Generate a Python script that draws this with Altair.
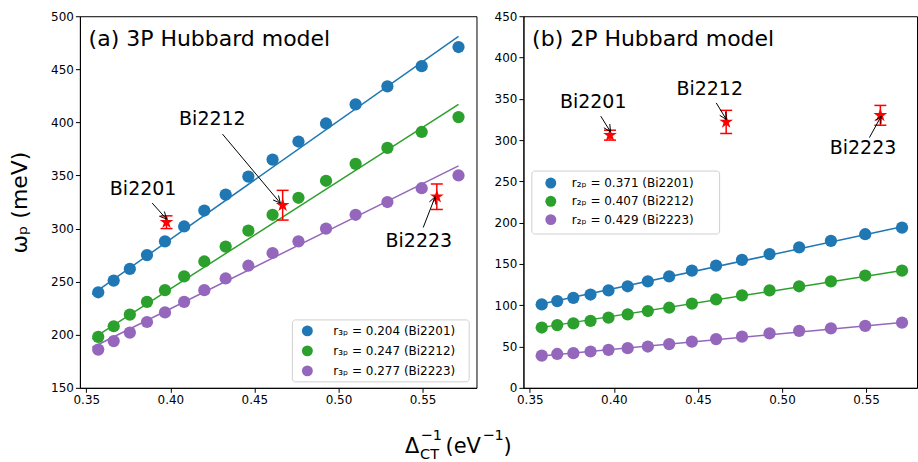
import math
import altair as alt
import pandas as pd

inv_delta = [0.3571, 0.3663, 0.3759, 0.3861, 0.3968, 0.4082, 0.4202, 0.4329,
             0.4464, 0.4608, 0.4762, 0.4926, 0.5102, 0.5291, 0.5495, 0.5714]

a_blue = [240, 251, 262, 275, 288, 302, 317, 332, 349, 365, 382, 399, 417, 434, 453, 471]
a_green = [198, 208, 219, 231, 242, 255, 269, 283, 298, 313, 329, 345, 361, 376, 391, 405]
a_purple = [186, 194, 202, 212, 221, 231, 242, 253, 265, 277, 288, 300, 313, 325, 338, 350]

b_blue = [101, 105, 109, 113, 118, 123, 129, 135, 142, 148, 155, 162, 170, 178, 186, 194]
b_green = [73, 76, 78, 81, 85, 89, 93, 97, 102, 107, 112, 118, 123, 129, 136, 142]
b_purple = [39, 41, 42, 44, 46, 48, 50, 53, 56, 59, 62, 66, 69, 72, 75, 79]

labels_a = ["r\u2083\u209a = 0.204 (Bi2201)", "r\u2083\u209a = 0.247 (Bi2212)", "r\u2083\u209a = 0.277 (Bi2223)"]
labels_b = ["r\u2082\u209a = 0.371 (Bi2201)", "r\u2082\u209a = 0.407 (Bi2212)", "r\u2082\u209a = 0.429 (Bi2223)"]
colors = ["#1f77b4", "#2ca02c", "#9467bd"]

fit_x = [0.3535, 0.5714]
fit_a = [[238, 481], [196, 417], [188, 359]]
fit_b = [[100, 195], [72, 142], [38, 79]]

exp_names = ["Bi2201", "Bi2212", "Bi2223"]
exp_x = [0.3977, 0.4668, 0.5585]
exp_w = [306, 322, 330]
exp_err = [6, 14, 12]

ann_a_text_x = [0.3838, 0.4250, 0.5478]
ann_a_text_y = [337, 403, 288]
ann_a_tail_x = [0.3892, 0.4310, 0.5504]
ann_a_tail_y = [324, 389, 301]
ann_a_head_x = [0.3977, 0.4654, 0.5575]
ann_a_head_y = [309, 324, 330]

ann_b_text_x = [0.3877, 0.4570, 0.5482]
ann_b_text_y = [346, 362, 290]
ann_b_tail_x = [0.3922, 0.4609, 0.5520]
ann_b_tail_y = [329, 345, 303]
ann_b_head_x = [0.3980, 0.4669, 0.5590]
ann_b_head_y = [310, 325, 329]

x_ticks = [0.35, 0.40, 0.45, 0.50, 0.55]
y_ticks_a = [150, 200, 250, 300, 350, 400, 450, 500]
y_ticks_b = [0, 50, 100, 150, 200, 250, 300, 350, 400, 450]

FONT = "DejaVu Sans"
H = 372
W_A = 397
W_B = 394
KX = 1683.0
X0 = 0.3462
XDOM_A = [X0, X0 + W_A / KX]
XDOM_B = [X0, X0 + W_B / KX]
YDOM_A = [150, 500]
YDOM_B = [0, 450]
HEAD_LEN = 7.0
HEAD_HALF = 3.5
STAR = ("M0,-1L0.2245,-0.309L0.951,-0.309L0.3633,0.118L0.588,0.809L0,0.382"
        "L-0.588,0.809L-0.3633,0.118L-0.951,-0.309L-0.2245,-0.309Z")
AXIS_STYLE = dict(labelFontSize=12, labelFont=FONT, labelColor="black",
                  tickColor="black", domainColor="black", tickSize=4.5,
                  tickWidth=1, domainWidth=1, grid=False, labelPadding=2)


def legend_layers(labels, box, sym_x, lab_x, row_y0, row_dy):
    """Legend box drawn inside the panel (pixel placement like matplotlib's legend)."""
    cs = alt.Scale(domain=labels, range=colors)
    frame = alt.Chart(pd.DataFrame({"k": [0]})).mark_rect(
        fill="white", stroke="#cccccc", strokeWidth=1, cornerRadius=3, opacity=0.9
    ).encode(x=alt.value(box[0]), x2=alt.value(box[1]),
             y=alt.value(box[2]), y2=alt.value(box[3]))
    ldf = pd.DataFrame({"s": labels,
                        "py": [row_y0 + i * row_dy for i in range(len(labels))]})
    syms = alt.Chart(ldf).mark_circle(size=120, opacity=1).encode(
        x=alt.value(sym_x), y=alt.Y("py:Q", scale=None),
        color=alt.Color("s:N", scale=cs, legend=None))
    texts = alt.Chart(ldf).mark_text(fontSize=12, font=FONT, color="black",
                                     align="left", baseline="middle").encode(
        x=alt.value(lab_x), y=alt.Y("py:Q", scale=None), text="s:N")
    return [frame, syms, texts]


def panel(series_vals, labels, fits, ydom, yticks, xdom, width, title,
          tx, ty, tlx, tly, hx, hy, leg, with_ytitle, extra=None):
    xs = alt.Scale(domain=xdom, nice=False, zero=False)
    ys = alt.Scale(domain=ydom, nice=False, zero=False)
    cs = alt.Scale(domain=labels, range=colors)

    rows = []
    for lab, vals in zip(labels, series_vals):
        for xv, yv in zip(inv_delta, vals):
            rows.append({"x": xv, "y": yv, "s": lab})
    pts = pd.DataFrame(rows)

    frows = []
    for lab, fv in zip(labels, fits):
        for xv, yv in zip(fit_x, fv):
            frows.append({"x": xv, "y": yv, "s": lab})
    fdf = pd.DataFrame(frows)

    edf = pd.DataFrame({"x": exp_x, "y": exp_w,
                        "lo": [w - e for w, e in zip(exp_w, exp_err)],
                        "hi": [w + e for w, e in zip(exp_w, exp_err)]})

    ky = H / (ydom[1] - ydom[0])
    seg = []
    for a, b, c, d in zip(tlx, tly, hx, hy):
        seg.append({"x1": a, "y1": b, "x2": c, "y2": d})
        ux, uy = (c - a) * KX, (d - b) * ky
        n = math.hypot(ux, uy)
        ux, uy = ux / n, uy / n
        for sgn in (1, -1):
            px = -ux * HEAD_LEN + sgn * (-uy) * HEAD_HALF
            py = -uy * HEAD_LEN + sgn * ux * HEAD_HALF
            seg.append({"x1": c, "y1": d, "x2": c + px / KX, "y2": d + py / ky})
    sdf = pd.DataFrame(seg)
    ldf = pd.DataFrame({"lx": tx, "ly": ty, "name": exp_names})

    if with_ytitle:
        yaxis = alt.Axis(title="\u03c9\u209a (meV)", titleFontSize=22, titleFont=FONT,
                         titleFontWeight="normal", titleColor="black",
                         titleX=-60, titleY=H / 2, titleAngle=270,
                         titleBaseline="middle", titleAlign="center",
                         values=yticks, **AXIS_STYLE)
    else:
        yaxis = alt.Axis(title=None, values=yticks, **AXIS_STYLE)
    xaxis = alt.Axis(title=None, values=x_ticks, format=".2f", **AXIS_STYLE)

    lines = alt.Chart(fdf).mark_line(strokeWidth=1.5).encode(
        x=alt.X("x:Q", scale=xs, axis=xaxis),
        y=alt.Y("y:Q", scale=ys, axis=yaxis),
        color=alt.Color("s:N", scale=cs, legend=None),
        detail="s:N",
    )
    points = alt.Chart(pts).mark_circle(size=150, opacity=1).encode(
        x=alt.X("x:Q", scale=xs),
        y=alt.Y("y:Q", scale=ys),
        color=alt.Color("s:N", scale=cs, legend=None),
    )
    err = alt.Chart(edf).mark_rule(color="red", strokeWidth=1.5).encode(
        x=alt.X("x:Q", scale=xs), y=alt.Y("lo:Q", scale=ys), y2="hi:Q")
    cap_lo = alt.Chart(edf).mark_tick(color="red", orient="horizontal", size=12,
                                      thickness=1.5, opacity=1).encode(
        x=alt.X("x:Q", scale=xs), y=alt.Y("lo:Q", scale=ys))
    cap_hi = alt.Chart(edf).mark_tick(color="red", orient="horizontal", size=12,
                                      thickness=1.5, opacity=1).encode(
        x=alt.X("x:Q", scale=xs), y=alt.Y("hi:Q", scale=ys))
    star = alt.Chart(edf).mark_point(shape=STAR, filled=True, color="red",
                                     size=210, opacity=1).encode(
        x=alt.X("x:Q", scale=xs), y=alt.Y("y:Q", scale=ys))
    arrows = alt.Chart(sdf).mark_rule(color="black", strokeWidth=1).encode(
        x=alt.X("x1:Q", scale=xs), y=alt.Y("y1:Q", scale=ys),
        x2="x2:Q", y2="y2:Q")
    labels_txt = alt.Chart(ldf).mark_text(fontSize=19, font=FONT, color="black",
                                          align="center", baseline="middle").encode(
        x=alt.X("lx:Q", scale=xs), y=alt.Y("ly:Q", scale=ys), text="name:N")
    ttl = alt.Chart(pd.DataFrame({"t": [title]})).mark_text(
        fontSize=22, font=FONT, color="black", align="left",
        baseline="alphabetic").encode(
        x=alt.value(8.7), y=alt.value(30), text="t:N")

    layers = [lines, points, err, cap_lo, cap_hi, star, arrows, labels_txt, ttl]
    layers += legend_layers(labels, *leg)
    if extra:
        layers += extra
    return alt.layer(*layers).resolve_scale(color="shared").properties(width=width, height=H)


def txt(s, x, y, size, align="left"):
    return alt.Chart(pd.DataFrame({"t": [s]})).mark_text(
        fontSize=size, font=FONT, color="black", align=align,
        baseline="alphabetic").encode(x=alt.value(x), y=alt.value(y), text="t:N")

xtitle = [
    txt("\u0394", 325.5, 437, 21),
    txt("\u22121", 341, 424, 14.5),
    txt("CT", 340.5, 443, 14.5),
    txt("(eV", 366, 437, 21),
    txt("\u22121", 403, 424, 14.5),
    txt(")", 424, 437, 21),
]

pa = panel([a_blue, a_green, a_purple], labels_a, fit_a, YDOM_A, y_ticks_a, XDOM_A, W_A,
           "(a) 3P Hubbard model",
           ann_a_text_x, ann_a_text_y, ann_a_tail_x, ann_a_tail_y, ann_a_head_x, ann_a_head_y,
           ((212.7, 389.7, 304, 366), 227.7, 253.7, 315, 20), True, extra=xtitle)
pb = panel([b_blue, b_green, b_purple], labels_b, fit_b, YDOM_B, y_ticks_b, XDOM_B, W_B,
           "(b) 2P Hubbard model",
           ann_b_text_x, ann_b_text_y, ann_b_tail_x, ann_b_tail_y, ann_b_head_x, ann_b_head_y,
           ((8.4, 196.4, 155, 218), 27.4, 48.4, 167, 18.3), False)

chart = alt.hconcat(pa, pb, spacing=47, bounds="flush").resolve_scale(
    color="independent", x="independent", y="independent"
).properties(
    padding={"left": 8, "top": 9, "right": 0, "bottom": 0},
    background="white",
).configure_view(stroke="black", strokeWidth=1)

chart.save("out.html", embed_options={"renderer": "svg", "actions": False})
